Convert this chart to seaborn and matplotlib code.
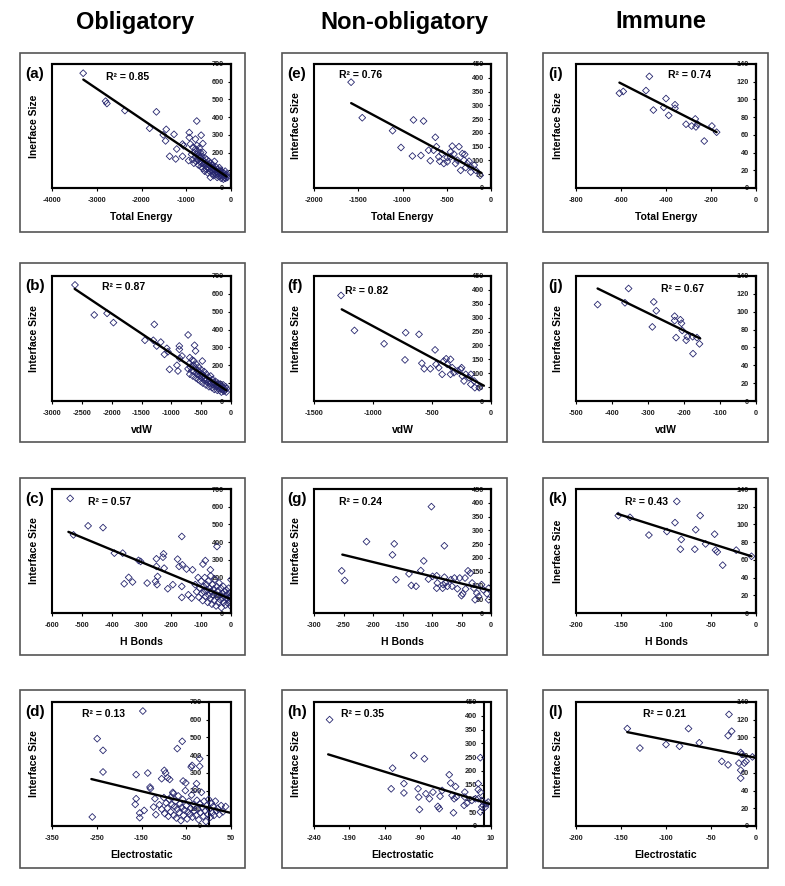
import matplotlib
matplotlib.use('Agg')
import matplotlib.pyplot as plt
import seaborn as sns
import pandas as pd
from matplotlib.patches import Rectangle

# ---- data (x = energy term, y = interface size) ----
a_pts = [(-3303, 648), (-2803, 490), (-2773, 477), (-2371, 437), (-1667, 430), (-1818, 337),
         (-1447, 331), (-1462, 266), (-1515, 300), (-1273, 303), (-1371, 179), (-1235, 164),
         (-1212, 220), (-1083, 248), (-1061, 238), (-909, 248), (-932, 285), (-932, 313),
         (-1083, 179), (-947, 155), (-765, 378), (-795, 276), (-667, 298), (-629, 251),
         (-880, 190), (-860, 160), (-850, 230), (-830, 140), (-820, 200), (-800, 175), (-790, 220),
         (-780, 150), (-770, 190), (-760, 240), (-750, 165), (-740, 205), (-730, 130), (-720, 185),
         (-710, 225), (-700, 150), (-690, 170), (-680, 200), (-670, 120), (-660, 140), (-650, 180),
         (-640, 160), (-630, 110), (-620, 200), (-610, 135), (-600, 150), (-590, 95), (-580, 170),
         (-570, 125), (-560, 140), (-550, 105), (-540, 160), (-530, 120), (-520, 85), (-510, 135),
         (-500, 110), (-490, 150), (-480, 95), (-470, 125), (-460, 60), (-450, 140), (-440, 100),
         (-430, 115), (-420, 80), (-410, 130), (-400, 95), (-390, 70), (-380, 110), (-370, 150),
         (-360, 85), (-350, 100), (-340, 120), (-330, 75), (-320, 90), (-310, 60), (-300, 105),
         (-290, 80), (-280, 95), (-270, 65), (-260, 115), (-250, 85), (-240, 70), (-230, 100),
         (-220, 55), (-210, 80), (-200, 90), (-190, 65), (-180, 75), (-170, 50), (-160, 85),
         (-150, 60), (-140, 70), (-130, 95), (-120, 55), (-110, 75), (-100, 65), (-90, 80), (-80, 60)]
a_fit_x = [-3300, -100]
a_fit_y = [612, 65]

b_pts = [(-2615, 650), (-2292, 482), (-2077, 491), (-1970, 439), (-1443, 340), (-1285, 429),
         (-1302, 340), (-1177, 330), (-1245, 308), (-1075, 295), (-1058, 276), (-1115, 261),
         (-1030, 177), (-906, 200), (-889, 168), (-860, 239), (-866, 289), (-866, 308),
         (-821, 252), (-719, 370), (-691, 243), (-594, 280), (-611, 312), (-623, 224), (-481, 224),
         (-720, 180), (-700, 210), (-690, 150), (-680, 190), (-660, 170), (-650, 230), (-640, 140),
         (-630, 200), (-620, 165), (-600, 185), (-590, 130), (-580, 205), (-570, 150), (-560, 170),
         (-550, 120), (-540, 190), (-530, 140), (-520, 160), (-510, 110), (-500, 175), (-490, 130),
         (-480, 150), (-470, 100), (-460, 140), (-450, 165), (-440, 115), (-430, 130), (-420, 90),
         (-410, 150), (-400, 120), (-390, 105), (-380, 135), (-370, 80), (-360, 115), (-350, 95),
         (-340, 140), (-330, 100), (-320, 75), (-310, 120), (-300, 90), (-290, 105), (-280, 65),
         (-270, 95), (-260, 110), (-250, 80), (-240, 90), (-230, 60), (-220, 100), (-210, 75),
         (-200, 85), (-190, 60), (-180, 95), (-170, 70), (-160, 50), (-150, 80), (-140, 65),
         (-130, 90), (-120, 55), (-110, 70), (-100, 60), (-90, 80), (-80, 50), (-75, 70)]
b_fit_x = [-2620, -80]
b_fit_y = [628, 60]

c_pts = [(-539, 647), (-528, 441), (-479, 492), (-429, 482), (-391, 338), (-363, 338), (-358, 165),
         (-343, 201), (-330, 175), (-310, 297), (-303, 291), (-281, 169), (-250, 306), (-250, 263),
         (-246, 206), (-253, 178), (-248, 160), (-224, 253), (-228, 315), (-226, 334), (-212, 137),
         (-195, 160), (-179, 304), (-174, 263), (-165, 432), (-163, 272), (-165, 150), (-165, 88),
         (-149, 248), (-143, 103), (-129, 244), (-132, 84), (-94, 276), (-86, 296), (-69, 244),
         (-47, 375), (0, 188),
         (-120, 160), (-115, 120), (-110, 200), (-108, 90), (-105, 140), (-100, 180), (-98, 110),
         (-95, 70), (-92, 150), (-90, 120), (-88, 200), (-85, 95), (-82, 160), (-80, 130), (-78, 60),
         (-76, 180), (-74, 100), (-72, 140), (-70, 80), (-68, 210), (-66, 120), (-64, 50), (-62, 160),
         (-60, 100), (-58, 135), (-56, 70), (-54, 190), (-52, 110), (-50, 40), (-48, 150), (-46, 90),
         (-44, 125), (-42, 60), (-40, 170), (-38, 100), (-36, 75), (-34, 140), (-32, 30), (-30, 110),
         (-28, 85), (-26, 150), (-24, 60), (-22, 120), (-20, 95), (-18, 45), (-16, 130), (-14, 80),
         (-12, 105), (-10, 55), (-8, 140), (-6, 90), (-4, 70), (-3, 115), (-2, 40), (-1, 95)]
c_fit_x = [-545, 0]
c_fit_y = [458, 78]

d_pts = [(-260, 51), (-249, 493), (-236, 427), (-236, 305), (-162, 290), (-162, 154), (-164, 122),
         (-136, 299), (-147, 649), (-131, 220), (-130, 211), (-154, 73), (-154, 47), (-144, 88),
         (-120, 154), (-118, 64), (-123, 107), (-99, 314), (-96, 299), (-92, 273), (-105, 267),
         (-87, 263), (-70, 437), (-59, 478), (-57, 254), (-51, 243), (-39, 333), (-37, 342),
         (-20, 380), (-20, 337), (-27, 239), (-79, 183), (-84, 164),
         (-110, 120), (-105, 95), (-100, 160), (-98, 70), (-95, 130), (-92, 100), (-90, 55),
         (-88, 150), (-85, 80), (-82, 120), (-80, 190), (-78, 60), (-76, 110), (-74, 140), (-72, 45),
         (-70, 95), (-68, 170), (-66, 75), (-64, 125), (-62, 30), (-60, 105), (-58, 150), (-56, 60),
         (-54, 90), (-52, 200), (-50, 115), (-48, 40), (-46, 80), (-44, 140), (-42, 65), (-40, 100),
         (-38, 175), (-36, 50), (-34, 120), (-32, 85), (-30, 210), (-28, 60), (-26, 145), (-24, 95),
         (-22, 35), (-20, 125), (-18, 75), (-16, 190), (-14, 105), (-12, 55), (-10, 140), (-8, 85),
         (-6, 25), (-4, 115), (-2, 65), (0, 150), (2, 95), (4, 50), (6, 130), (8, 75), (10, 110),
         (12, 60), (15, 140), (18, 85), (20, 100), (24, 65), (28, 115), (32, 80), (38, 110)]
d_fit_x = [-262, 48]
d_fit_y = [265, 75]

e_pts = [(-1581, 384), (-1455, 255), (-1112, 208), (-1017, 147), (-876, 247), (-762, 243),
         (-888, 116), (-792, 118), (-629, 184), (-617, 150), (-705, 137), (-648, 137), (-686, 99),
         (-579, 97), (-590, 113), (-552, 125), (-495, 111), (-495, 95), (-438, 152), (-419, 123),
         (-457, 131), (-362, 150), (-381, 101), (-324, 125), (-305, 101), (-297, 122), (-286, 74),
         (-267, 89), (-248, 97), (-229, 77), (-190, 83), (-171, 64), (-122, 46), (-533, 89),
         (-400, 89), (-343, 64), (-457, 113), (-229, 58)]
e_fit_x = [-1580, -110]
e_fit_y = [308, 55]

f_pts = [(-1271, 380), (-1157, 254), (-906, 206), (-723, 246), (-729, 148), (-586, 136),
         (-566, 116), (-514, 116), (-610, 240), (-474, 184), (-466, 132), (-443, 120), (-414, 96),
         (-400, 144), (-380, 152), (-343, 150), (-329, 120), (-343, 96), (-371, 132), (-286, 108),
         (-257, 114), (-243, 90), (-249, 120), (-229, 72), (-214, 96), (-186, 84), (-171, 96),
         (-171, 60), (-143, 72), (-137, 48), (-100, 48), (-314, 102)]
f_fit_x = [-1265, -60]
f_fit_y = [330, 55]

g_pts = [(-253, 153), (-248, 118), (-211, 259), (-164, 251), (-167, 211), (-161, 121), (-139, 142),
         (-135, 100), (-127, 97), (-114, 189), (-119, 154), (-106, 123), (-101, 386), (-79, 244),
         (-92, 135), (-92, 90), (-91, 109), (-82, 90), (-79, 130), (-77, 109), (-81, 103), (-68, 121),
         (-62, 127), (-57, 88), (-53, 127), (-48, 70), (-50, 63), (-44, 127), (-43, 87), (-39, 153),
         (-35, 145), (-32, 109), (-29, 90), (-27, 48), (-24, 72), (-21, 60), (-16, 103), (-13, 84),
         (-7, 70), (-4, 48), (-4, 90), (-66, 97), (-74, 97), (-99, 133)]
g_fit_x = [-252, -2]
g_fit_y = [212, 82]

h_pts = [(-218, 386), (-129, 210), (-131, 135), (-113, 154), (-113, 120), (-99, 256), (-84, 244),
         (-93, 135), (-92, 105), (-91, 60), (-82, 117), (-77, 99), (-72, 123), (-65, 71), (-63, 63),
         (-62, 108), (-59, 129), (-49, 186), (-47, 156), (-45, 111), (-43, 48), (-42, 99), (-40, 143),
         (-39, 105), (-27, 123), (-27, 105), (-28, 75), (-24, 83), (-17, 93), (-5, 248), (-8, 154),
         (-8, 132), (-5, 123), (-8, 99), (-3, 93), (-3, 69), (-1, 75), (-5, 51), (4, 81), (6, 87),
         (2, 69), (-12, 99)]
h_fit_x = [-220, 8]
h_fit_y = [260, 80]

i_pts = [(-607, 107), (-590, 109), (-474, 126), (-489, 110), (-400, 101), (-456, 88), (-410, 91),
         (-360, 94), (-360, 90), (-388, 82), (-311, 72), (-286, 70), (-267, 69), (-270, 78),
         (-259, 72), (-196, 70), (-175, 63), (-230, 53)]
i_fit_x = [-607, -175]
i_fit_y = [119, 63]

j_pts = [(-440, 108), (-354, 126), (-364, 110), (-284, 111), (-277, 101), (-288, 83), (-226, 95),
         (-226, 90), (-210, 91), (-207, 87), (-205, 79), (-222, 71), (-194, 68), (-191, 72),
         (-175, 53), (-164, 71), (-157, 64), (-176, 72)]
j_fit_x = [-440, -155]
j_fit_y = [126, 70]

k_pts = [(-153, 110), (-88, 126), (-62, 110), (-90, 102), (-99, 92), (-119, 88), (-67, 94),
         (-46, 89), (-83, 83), (-56, 78), (-84, 72), (-68, 72), (-45, 71), (-43, 69), (-22, 71),
         (-37, 54), (-5, 64), (-140, 108)]
k_fit_x = [-154, -5]
k_fit_y = [112, 64]

l_pts = [(-143, 110), (-129, 88), (-100, 92), (-85, 90), (-75, 110), (-63, 94), (-38, 73), (-31, 69),
         (-30, 126), (-31, 102), (-27, 107), (-17, 83), (-19, 71), (-17, 63), (-17, 54), (-13, 71),
         (-11, 73), (-4, 78), (-16, 81)]
l_fit_x = [-143, 0]
l_fit_y = [106, 77]

column_titles = ['Obligatory', 'Non-obligatory', 'Immune']
r2_values = ['0.85', '0.87', '0.57', '0.13', '0.76', '0.82', '0.24', '0.35', '0.74', '0.67', '0.43', '0.21']
x_titles = ['Total Energy', 'vdW', 'H Bonds', 'Electrostatic']


def main():
    sns.set_theme(style='white')
    plt.rcParams['font.family'] = ['Liberation Sans', 'DejaVu Sans']
    plt.rcParams['axes.unicode_minus'] = False
    plt.rcParams['text.color'] = 'black'

    W, H = 785, 886
    fig = plt.figure(figsize=(W / 100, H / 100), dpi=100)
    fig.patch.set_facecolor('white')

    # pixel layout of the grid
    ax_cols = [(52, 231), (314, 491), (576, 756)]
    ax_rows = [(64, 188), (276, 401), (489, 613), (702, 826)]
    box_cols = [(20, 245), (282, 507), (543, 768)]
    box_rows = [(53, 232), (263, 442), (478, 655), (690, 868)]
    title_x = [135, 404, 661]

    panels = [
        # col 0
        ('a', a_pts, a_fit_x, a_fit_y, (-4000, 0), 1000, (0, 700), 100, 'Inerface Size', (0.30, 0.895)),
        ('b', b_pts, b_fit_x, b_fit_y, (-3000, 0), 500, (0, 700), 100, 'Interface Size', (0.28, 0.91)),
        ('c', c_pts, c_fit_x, c_fit_y, (-600, 0), 100, (0, 700), 100, 'Interface Size', (0.20, 0.895)),
        ('d', d_pts, d_fit_x, d_fit_y, (-350, 50), 100, (0, 700), 100, 'Interface Size', (0.17, 0.90)),
        # col 1
        ('e', e_pts, e_fit_x, e_fit_y, (-2000, 0), 500, (0, 450), 50, 'Interface Size', (0.14, 0.91)),
        ('f', f_pts, f_fit_x, f_fit_y, (-1500, 0), 500, (0, 450), 50, 'Interface Size', (0.175, 0.88)),
        ('g', g_pts, g_fit_x, g_fit_y, (-300, 0), 50, (0, 450), 50, 'Interface Size', (0.14, 0.895)),
        ('h', h_pts, h_fit_x, h_fit_y, (-240, 10), 50, (0, 450), 50, 'Interface Size', (0.15, 0.90)),
        # col 2
        ('i', i_pts, i_fit_x, i_fit_y, (-800, 0), 200, (0, 140), 20, 'Interface Size', (0.51, 0.91)),
        ('j', j_pts, j_fit_x, j_fit_y, (-500, 0), 100, (0, 140), 20, 'Interface Size', (0.47, 0.90)),
        ('k', k_pts, k_fit_x, k_fit_y, (-200, 0), 50, (0, 140), 20, 'Inerface Size', (0.27, 0.895)),
        ('l', l_pts, l_fit_x, l_fit_y, (-200, 0), 50, (0, 140), 20, 'Interface Size', (0.37, 0.90)),
    ]

    for ci, t in enumerate(column_titles):
        fig.text(title_x[ci] / W, 1 - 22 / H, t, ha='center', va='center',
                 fontsize=17, fontweight='bold', color='black')

    for n, (letter, pts, fx, fy, xlim, xstep, ylim, ystep, ylab, r2pos) in enumerate(panels):
        col, row = n // 4, n % 4
        x0, x1 = ax_cols[col]
        y0, y1 = ax_rows[row]
        bx0, bx1 = box_cols[col]
        by0, by1 = box_rows[row]

        # outer panel frame
        fig.add_artist(Rectangle((bx0 / W, 1 - by1 / H), (bx1 - bx0) / W, (by1 - by0) / H,
                                 transform=fig.transFigure, fill=False,
                                 edgecolor='#555555', lw=1.2))

        ax = fig.add_axes([x0 / W, 1 - y1 / H, (x1 - x0) / W, (y1 - y0) / H])
        df = pd.DataFrame(pts, columns=['x', 'y'])
        sns.scatterplot(data=df, x='x', y='y', marker='D', s=12, facecolor='none',
                        edgecolor='#26266e', linewidth=0.6, ax=ax, zorder=3)
        sns.lineplot(x=fx, y=fy, color='black', lw=1.7, estimator=None, sort=False,
                     ax=ax, zorder=4)
        ax.set_xlabel('')
        ax.set_ylabel('')

        # y axis crosses at x = 0 (Excel style); set before ticks, it resets them
        for s in ax.spines.values():
            s.set_visible(True)
            s.set_color('black')
            s.set_linewidth(1.5)
        ax.spines['left'].set_position(('data', 0))
        ax.add_patch(Rectangle((0, 0), 1, 1, transform=ax.transAxes, fill=False,
                               edgecolor='black', lw=1.5, clip_on=False, zorder=5))
        ax.yaxis.set_ticks_position('left')
        ax.xaxis.set_ticks_position('bottom')

        ax.set_xlim(*xlim)
        ax.set_ylim(*ylim)
        xticks = list(range(xlim[0], xlim[1] + 1, xstep))
        yticks = list(range(ylim[0], ylim[1] + 1, ystep))
        ax.set_xticks(xticks)
        ax.set_yticks(yticks)
        ax.set_xticklabels([str(v) for v in xticks])
        ax.set_yticklabels([str(v) for v in yticks])
        ax.tick_params(axis='both', direction='out', length=2.5, width=0.8, color='black',
                       labelcolor='#222222', labelsize=5.3)
        ax.tick_params(axis='x', pad=4)
        ax.tick_params(axis='y', pad=2.5)
        for lab in ax.get_xticklabels() + ax.get_yticklabels():
            lab.set_fontweight('bold')

        ax.text(0.5, -0.235, x_titles[row], transform=ax.transAxes, ha='center', va='center',
                fontsize=7.5, fontweight='bold', color='black')
        ax.text(-0.10, 0.5, ylab, transform=ax.transAxes, ha='center', va='center',
                rotation=90, fontsize=7.5, fontweight='bold', color='black')
        ax.text(r2pos[0], r2pos[1], 'R\u00b2 = ' + r2_values[n], transform=ax.transAxes,
                ha='left', va='center', fontsize=7.5, fontweight='bold', color='black')
        fig.text((bx0 + 5) / W, 1 - (y0 + 10) / H, '(' + letter + ')', ha='left', va='center',
                 fontsize=11, fontweight='bold', color='black')

    fig.savefig('out.png', dpi=100, facecolor='white')
    plt.close(fig)


if __name__ == '__main__':
    main()
